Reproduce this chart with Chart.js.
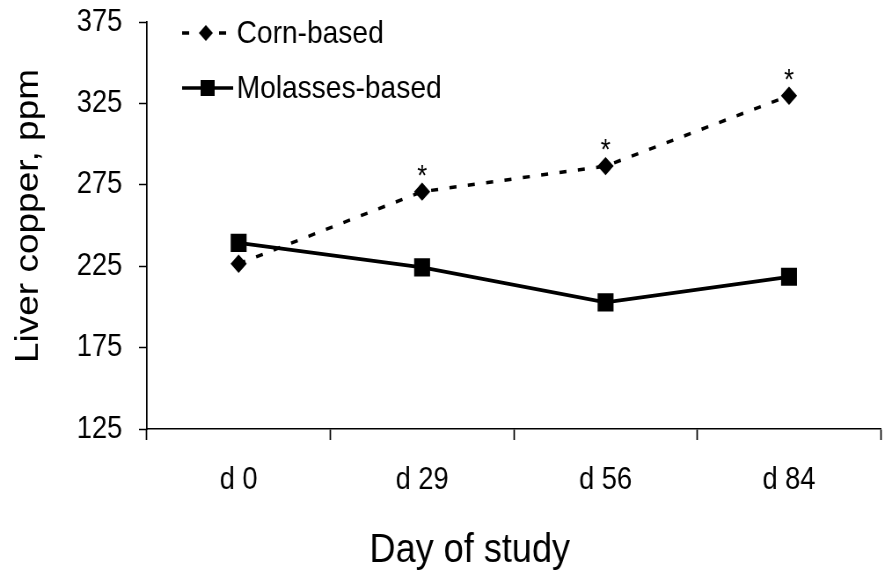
<!DOCTYPE html>
<html>
<head>
<meta charset="utf-8">
<script src="https://cdn.jsdelivr.net/npm/chart.js@4.4.0/dist/chart.umd.min.js"></script>
<style>
  html, body { margin: 0; padding: 0; background: #fff; overflow: hidden; }
  #wrap { width: 885px; height: 571px; overflow: hidden; position: relative; }
  canvas { position: absolute; left: 0; top: 0; }
</style>
</head>
<body>
<div id="wrap">
  <!-- the reference is squeezed horizontally, so the canvas is drawn wider and shown narrower -->
  <canvas id="chart" width="1014" height="571" style="width:892px;height:571px"></canvas>
</div>
<script>
// data
const days = ["d 0", "d 29", "d 56", "d 84"];
const cornBased = [226.5, 270.8, 286.5, 329.7];
const molassesBased = [239.3, 224.3, 202.8, 218.5];
const cornSignificant = ["", "*", "*", "*"];
const yTicks = [125, 175, 225, 275, 325, 375];

const FONT = "'Liberation Sans', Arial, sans-serif";

// axis titles, asterisks and the in-plot legend (canvas units, x is 1/0.88 of screen)
const extras = {
  id: "extras",
  afterDatasetsDraw(chart) {
    const ctx = chart.ctx;
    ctx.save();
    ctx.fillStyle = "#000";

    // significance marks over corn points
    const meta = chart.getDatasetMeta(0);
    ctx.font = `29px ${FONT}`;
    ctx.textAlign = "center";
    ctx.textBaseline = "alphabetic";
    meta.data.forEach((pt, i) => {
      if (cornSignificant[i]) ctx.fillText(cornSignificant[i], pt.x, pt.y - 7);
    });

    // legend
    ctx.strokeStyle = "#000";
    ctx.lineWidth = 3.5;
    ctx.beginPath(); ctx.moveTo(207, 33); ctx.lineTo(215, 33); ctx.stroke();
    ctx.beginPath(); ctx.moveTo(249, 33); ctx.lineTo(257, 33); ctx.stroke();
    ctx.beginPath();
    ctx.moveTo(234, 25); ctx.lineTo(242, 33); ctx.lineTo(234, 41); ctx.lineTo(226, 33);
    ctx.closePath(); ctx.fill();

    ctx.beginPath(); ctx.moveTo(207, 88); ctx.lineTo(265, 88); ctx.stroke();
    ctx.fillRect(228, 80, 16, 16);

    ctx.font = `32px ${FONT}`;
    ctx.textAlign = "left";
    ctx.textBaseline = "middle";
    ctx.fillText("Corn-based", 269, 34);
    ctx.fillText("Molasses-based", 269, 89);

    // axis titles
    ctx.font = `41px ${FONT}`;
    ctx.textAlign = "center";
    ctx.textBaseline = "alphabetic";
    ctx.fillText("Day of study", 534, 562);

    ctx.font = `37px ${FONT}`;
    ctx.translate(43, 216);
    ctx.rotate(-Math.PI / 2);
    ctx.fillText("Liver copper, ppm", 0, 0);
    ctx.restore();
  }
};

new Chart(document.getElementById("chart").getContext("2d"), {
  type: "line",
  data: {
    labels: days,
    datasets: [
      {
        label: "Corn-based",
        data: cornBased,
        borderColor: "#000",
        backgroundColor: "#000",
        borderWidth: 3.5,
        borderDash: [8, 13],
        pointStyle: "rectRot",
        pointRadius: 9.2,
        pointBorderWidth: 0,
        pointBackgroundColor: "#000",
        tension: 0
      },
      {
        label: "Molasses-based",
        data: molassesBased,
        borderColor: "#000",
        backgroundColor: "#000",
        borderWidth: 3.8,
        pointStyle: "rect",
        pointRadius: 12.8,
        pointBorderWidth: 0,
        pointBackgroundColor: "#000",
        tension: 0
      }
    ]
  },
  options: {
    responsive: false,
    animation: false,
    events: [],
    layout: { padding: { top: 22, right: 1, left: 0, bottom: 0 } },
    plugins: {
      legend: { display: false },
      tooltip: { enabled: false }
    },
    scales: {
      x: {
        type: "category",
        offset: true,
        grid: {
          offset: true,
          drawOnChartArea: false,
          tickLength: 11,
          tickColor: "#000",
          tickWidth: 1.7
        },
        border: { color: "#000", width: 1.5 },
        ticks: { color: "#000", font: { family: FONT, size: 31 }, padding: 22 },
        afterFit: s => { s.height = 142; s.paddingLeft = 0; s.paddingRight = 0; }
      },
      y: {
        min: 125,
        max: 375,
        afterBuildTicks: s => { s.ticks = yTicks.map(v => ({ value: v })); },
        grid: {
          drawOnChartArea: false,
          tickLength: 9,
          tickColor: "#000",
          tickWidth: 1.5
        },
        border: { color: "#000", width: 1.7 },
        ticks: { color: "#000", font: { family: FONT, size: 31 }, padding: 19 },
        afterFit: s => { s.width = 167; s.paddingTop = 0; s.paddingBottom = 0; }
      }
    }
  },
  plugins: [extras]
});
</script>
</body>
</html>
